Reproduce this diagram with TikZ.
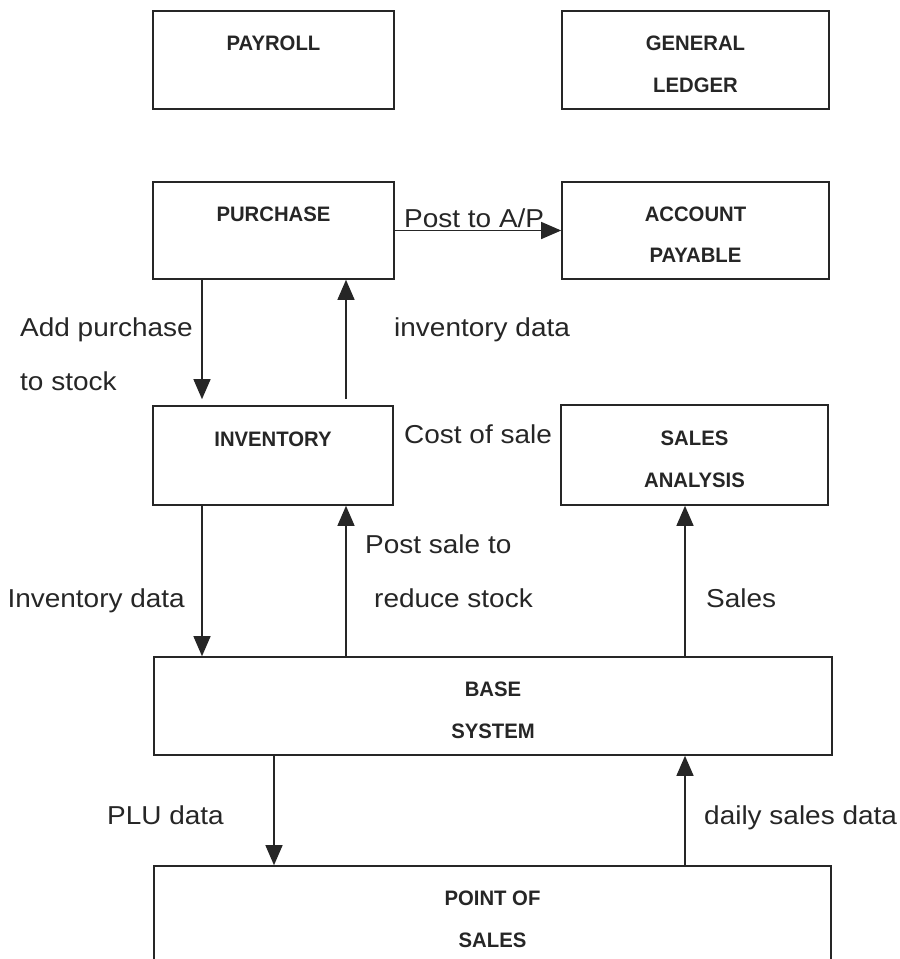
\documentclass[tikz,border=0pt]{standalone}
\usepackage{fontspec}
\setmainfont{Liberation Sans}
\newfontfamily\boxfont[FakeStretch=0.97]{Liberation Sans}
\newfontfamily\lblfont[FakeStretch=1.08]{Liberation Sans}
\usetikzlibrary{arrows.meta}
\newcommand{\bx}[2]{\rule{0pt}{27bp}#1\\#2\rule[-4bp]{0pt}{4bp}}
\begin{document}
\begin{tikzpicture}[x=1bp,y=-1bp,
  box/.style={draw=black!85, line width=1.6bp, inner sep=0pt, align=center,
    text=black!85, font=\boxfont\bfseries\fontsize{21}{42}\selectfont},
  lbl/.style={inner sep=0pt, text=black!85, font=\lblfont\fontsize{26}{30}\selectfont},
  arr/.style={draw=black!85, line width=1.3bp, -{Triangle[length=20bp,width=17bp]}}]
\useasboundingbox (0,0) rectangle (900,959);
\clip (0,0) rectangle (900,959);
% boxes
\node[box, minimum width=241bp, minimum height=98bp] (payroll) at (273.5,60) {\bx{PAYROLL}{}};
\node[box, minimum width=267bp, minimum height=98bp] (ledger) at (695.5,60) {\bx{GENERAL}{LEDGER}};
\node[box, minimum width=241bp, minimum height=97bp] (purchase) at (273.5,230.5) {\bx{PURCHASE}{}};
\node[box, minimum width=267bp, minimum height=97bp] (payable) at (695.5,230.5) {\bx{ACCOUNT}{PAYABLE}};
\node[box, minimum width=240bp, minimum height=99bp] (inventory) at (273,455.5) {\bx{INVENTORY}{}};
\node[box, minimum width=267bp, minimum height=100bp] (analysis) at (694.5,455) {\bx{SALES}{ANALYSIS}};
\node[box, minimum width=678bp, minimum height=98bp] (base) at (493,706) {\bx{BASE}{SYSTEM}};
\node[box, minimum width=677bp, minimum height=98bp] (pos) at (492.5,915) {\bx{POINT OF}{SALES}};
% columns
\coordinate (c1) at (202,0);
\coordinate (c2) at (346,0);
\coordinate (c3) at (685,0);
\coordinate (c4) at (274,0);
% connectors
\draw[arr] (purchase.east) -- (payable.west);
\draw[arr, shorten >=6bp] (purchase.south -| c1) -- (inventory.north -| c1);
\draw[arr, shorten <=6bp] (inventory.north -| c2) -- (purchase.south -| c2);
\draw[arr] (inventory.south -| c1) -- (base.north -| c1);
\draw[arr] (base.north -| c2) -- (inventory.south -| c2);
\draw[arr] (base.north -| c3) -- (analysis.south -| c3);
\draw[arr] (base.south -| c4) -- (pos.north -| c4);
\draw[arr] (pos.north -| c3) -- (base.south -| c3);
% labels
\node[lbl, anchor=base west] (l1) at (404,227) {Post to A/P};
\node[lbl, anchor=base west] (l2) at (20,336) {Add purchase};
\node[lbl, anchor=base west] (l3) at (20,390) {to stock};
\node[lbl, anchor=base west] (l4) at (394,336) {inventory data};
\node[lbl, anchor=base west] (l5) at (404,443) {Cost of sale};
\node[lbl, anchor=base west] (l6) at (365,553) {Post sale to};
\node[lbl, anchor=base west] (l7) at (374,607) {reduce stock};
\node[lbl, anchor=base east] (l8) at (185,607) {Inventory data};
\node[lbl, anchor=base west] (l9) at (706,607) {Sales};
\node[lbl, anchor=base west] (l10) at (107,824) {PLU data};
\node[lbl, anchor=base west] (l11) at (704,824) {daily sales data};
\end{tikzpicture}
\end{document}
